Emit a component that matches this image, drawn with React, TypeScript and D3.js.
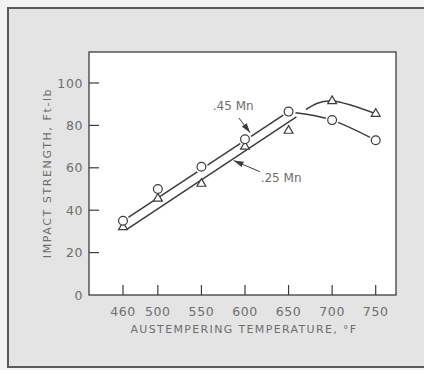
import React from 'react';
import * as d3 from 'd3';

// readings
const temps = [460, 500, 550, 600, 650, 700, 750];
const mn45 = [35, 50, 60.5, 73.5, 86.5, 82.5, 73];
const mn25 = [32, 45.5, 52.5, 70, 77.5, 91.5, 85.5];

// drawn fit lines / curves (temp, impact)
const mn45Fit: [number, number][] = [[460, 35], [650, 86.5]];
const mn25Fit: [number, number][] = [[464, 30.8], [659, 84]];
const mn45Curve: [number, number][] = [[658, 86], [700, 82.5], [750, 73]];
const mn25Curve: [number, number][] = [[670, 87.5], [700, 91.5], [750, 85.5]];

const xTicks = [460, 500, 550, 600, 650, 700, 750];
const yTicks = [0, 20, 40, 60, 80, 100];

const TEXT = '#6e6e6e';
const INK = '#3c3c3c';
const FONT = '"DejaVu Sans", sans-serif';

const W = 424;
const H = 370;
const box = { left: 89, top: 52, right: 396, bottom: 295 };

const App: React.FC = () => {
  const x = d3.scaleLinear().domain([460, 750]).range([123, 375.7]);
  const y = d3.scaleLinear().domain([0, 100]).range([box.bottom, 83]);

  const straight = d3
    .line<[number, number]>()
    .x((d) => x(d[0]))
    .y((d) => y(d[1]));
  const curved = d3
    .line<[number, number]>()
    .x((d) => x(d[0]))
    .y((d) => y(d[1]))
    .curve(d3.curveNatural);

  const tri = d3.symbol().type(d3.symbolTriangle).size(34)();

  return (
    <svg
      width={W}
      height={H}
      style={{ position: 'absolute', left: 0, top: 0 }}
      fontFamily={FONT}
    >
      <rect x={0} y={0} width={W} height={H} fill="#f3f3f3" />
      <rect
        x={8}
        y={8}
        width={W}
        height={359}
        fill="#e4e4e4"
        stroke="#5a5a5a"
        strokeWidth={2}
      />

      {/* plot box */}
      <rect
        x={box.left}
        y={box.top}
        width={box.right - box.left}
        height={box.bottom - box.top}
        fill="#fff"
        stroke={INK}
        strokeWidth={1.3}
      />

      {/* y ticks */}
      {yTicks.map((t) => (
        <g key={'y' + t}>
          {t > 0 && (
            <line
              x1={box.left}
              x2={box.left + 10}
              y1={y(t)}
              y2={y(t)}
              stroke={INK}
              strokeWidth={1.2}
            />
          )}
          <text
            x={83}
            y={y(t)}
            textAnchor="end"
            dominantBaseline="central"
            fontSize={12.5}
            letterSpacing={0.6}
            fill={TEXT}
          >
            {t}
          </text>
        </g>
      ))}

      {/* x ticks */}
      {xTicks.map((t) => (
        <g key={'x' + t}>
          <line
            x1={x(t)}
            x2={x(t)}
            y1={box.bottom}
            y2={box.bottom - 10}
            stroke={INK}
            strokeWidth={1.2}
          />
          <text
            x={x(t)}
            y={311}
            textAnchor="middle"
            dominantBaseline="central"
            fontSize={12.5}
            letterSpacing={0.6}
            fill={TEXT}
          >
            {t}
          </text>
        </g>
      ))}

      <text
        x={244}
        y={329}
        textAnchor="middle"
        dominantBaseline="central"
        fontSize={11}
        letterSpacing={1.35}
        fill={TEXT}
      >
        AUSTEMPERING TEMPERATURE, °F
      </text>
      <text
        transform="translate(47,173) rotate(-90)"
        textAnchor="middle"
        dominantBaseline="central"
        fontSize={11}
        letterSpacing={1.6}
        fill={TEXT}
      >
        IMPACT STRENGTH, Ft-lb
      </text>

      {/* lines */}
      <g fill="none" stroke={INK} strokeWidth={1.5}>
        <path d={straight(mn45Fit) ?? ''} />
        <path d={straight(mn25Fit) ?? ''} />
        <path d={curved(mn45Curve) ?? ''} />
        <path d={curved(mn25Curve) ?? ''} />
      </g>

      {/* halos so lines break at markers */}
      {temps.map((t, i) => (
        <circle key={'h' + t} cx={x(t)} cy={y(mn45[i])} r={6.5} fill="#fff" />
      ))}

      {/* markers */}
      <g fill="#fff" stroke={INK} strokeWidth={1.2}>
        {temps.map((t, i) => (
          <path
            key={'t' + t}
            d={tri ?? ''}
            transform={`translate(${x(t)},${y(mn25[i])})`}
          />
        ))}
        {temps.map((t, i) => (
          <circle key={'c' + t} cx={x(t)} cy={y(mn45[i])} r={4.4} />
        ))}
      </g>

      {/* annotations */}
      <defs>
        <marker
          id="ah"
          viewBox="0 0 10 6"
          refX={10}
          refY={3}
          markerWidth={10}
          markerHeight={6}
          markerUnits="userSpaceOnUse"
          orient="auto"
        >
          <path d="M0,0 L10,3 L0,6 Z" fill={INK} />
        </marker>
      </defs>
      <text
        x={x(563)}
        y={y(89)}
        dominantBaseline="central"
        fontSize={12}
        fill={TEXT}
      >
        .45 Mn
      </text>
      <line
        x1={x(593)}
        y1={y(83.5)}
        x2={x(606)}
        y2={y(76.5)}
        stroke={INK}
        strokeWidth={1}
        markerEnd="url(#ah)"
      />
      <text
        x={x(618)}
        y={y(55.2)}
        dominantBaseline="central"
        fontSize={12}
        fill={TEXT}
      >
        .25 Mn
      </text>
      <line
        x1={x(617)}
        y1={y(58.2)}
        x2={x(587)}
        y2={y(63.4)}
        stroke={INK}
        strokeWidth={1}
        markerEnd="url(#ah)"
      />
    </svg>
  );
};

export default App;
